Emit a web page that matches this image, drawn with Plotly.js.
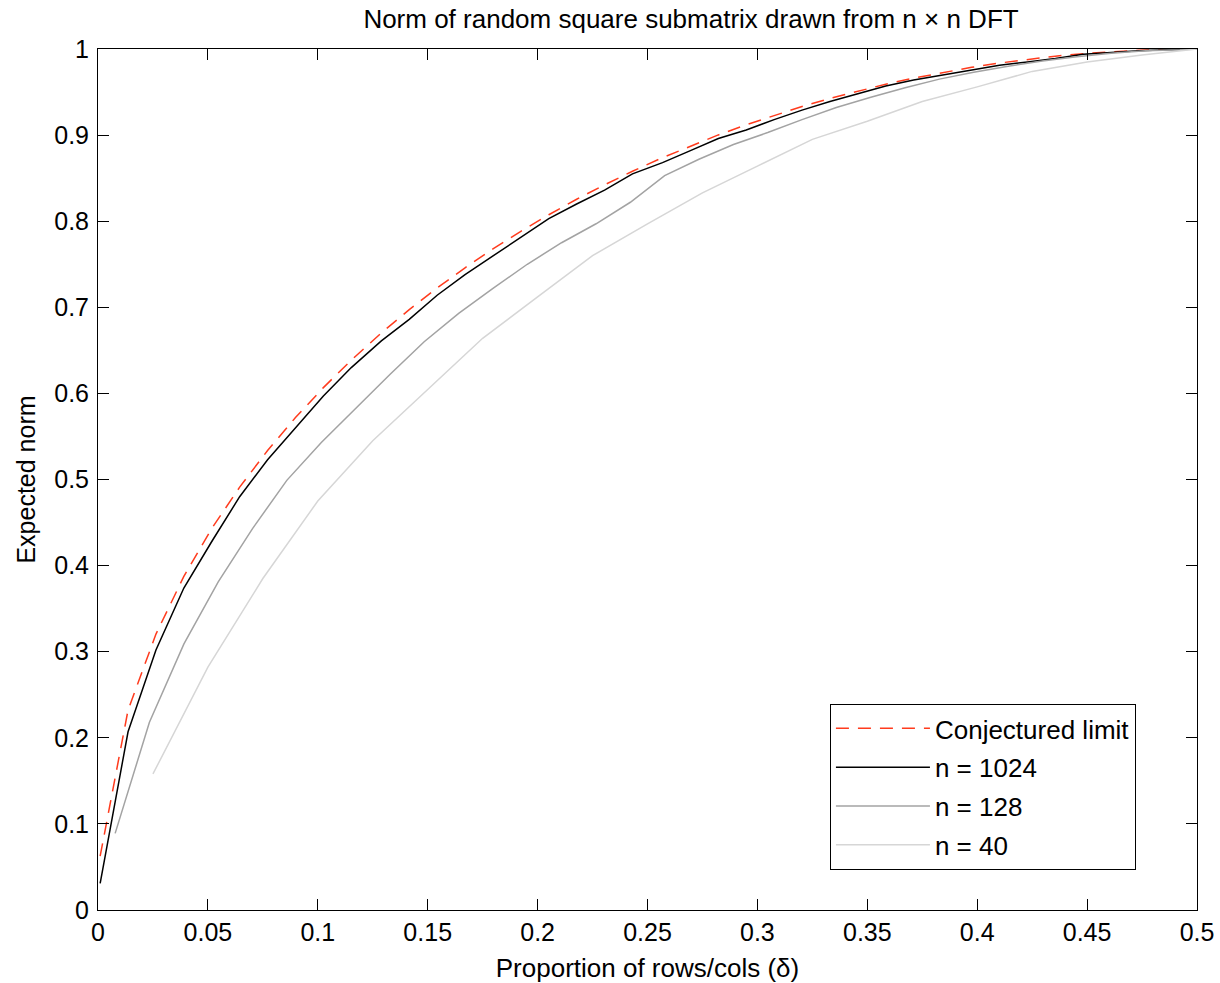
<!DOCTYPE html>
<html>
<head>
<meta charset="utf-8">
<script src="https://cdn.plot.ly/plotly-3.0.1.min.js"></script>
<style>html,body{margin:0;padding:0;background:#fff;}#chart{width:1220px;height:983px;}</style>
</head>
<body>
<div id="chart"></div>
<script>
// proportion of rows/cols (delta) sampled for n = 1024 and the conjectured limit
var delta1024 = [0.00098, 0.01367, 0.02637, 0.03906, 0.05176, 0.06445, 0.07715, 0.08984, 0.10254, 0.11523,
  0.12891, 0.14160, 0.15430, 0.16699, 0.17969, 0.19238, 0.20508, 0.21777, 0.23047, 0.24316,
  0.25684, 0.26953, 0.28223, 0.29492, 0.30762, 0.32031, 0.33301, 0.34570, 0.35840, 0.37109,
  0.38477, 0.39746, 0.41016, 0.42285, 0.43555, 0.44824, 0.46094, 0.47363, 0.48633, 0.50000];
var limitNorm = [0.0625, 0.2322, 0.3205, 0.3875, 0.4431, 0.4911, 0.5337, 0.5719, 0.6067, 0.6386,
  0.6702, 0.6973, 0.7225, 0.7459, 0.7679, 0.7883, 0.8075, 0.8255, 0.8423, 0.8580,
  0.8738, 0.8874, 0.9002, 0.9120, 0.9230, 0.9332, 0.9426, 0.9512, 0.9591, 0.9662,
  0.9731, 0.9787, 0.9837, 0.9880, 0.9917, 0.9946, 0.9969, 0.9986, 0.9996, 1.0000];
var norm1024 = [0.031, 0.207, 0.302, 0.374, 0.428, 0.480, 0.523, 0.560, 0.597, 0.630,
  0.661, 0.686, 0.714, 0.738, 0.760, 0.782, 0.803, 0.820, 0.836, 0.855,
  0.868, 0.882, 0.896, 0.906, 0.918, 0.929, 0.939, 0.948, 0.957, 0.964,
  0.970, 0.976, 0.981, 0.985, 0.989, 0.994, 0.996, 0.998, 0.999, 1.000];
var delta128 = [0.0078, 0.0234, 0.0391, 0.0547, 0.0703, 0.0859, 0.1016, 0.1172, 0.1328, 0.1484,
  0.1641, 0.1797, 0.1953, 0.2109, 0.2266, 0.2422, 0.2578, 0.2734, 0.2891, 0.3047,
  0.3203, 0.3359, 0.3516, 0.3672, 0.3828, 0.3984, 0.4141, 0.4297, 0.4453, 0.4609,
  0.4766, 0.4922, 0.5000];
var norm128 = [0.089, 0.218, 0.309, 0.381, 0.443, 0.499, 0.543, 0.583, 0.622, 0.660,
  0.693, 0.722, 0.750, 0.775, 0.797, 0.822, 0.853, 0.872, 0.889, 0.903,
  0.918, 0.932, 0.944, 0.955, 0.965, 0.973, 0.980, 0.986, 0.991, 0.995,
  0.998, 0.999, 1.000];
var delta40 = [0.025, 0.050, 0.075, 0.100, 0.125, 0.150, 0.175, 0.200, 0.225, 0.250,
  0.275, 0.300, 0.325, 0.350, 0.375, 0.400, 0.425, 0.450, 0.475, 0.500];
var norm40 = [0.158, 0.282, 0.385, 0.475, 0.545, 0.604, 0.664, 0.712, 0.760, 0.797,
  0.833, 0.864, 0.895, 0.916, 0.939, 0.956, 0.974, 0.985, 0.993, 1.000];

var seriesNames = ["Conjectured limit", "n = 1024", "n = 128", "n = 40"];
var xTickVals = [0, 0.05, 0.1, 0.15, 0.2, 0.25, 0.3, 0.35, 0.4, 0.45, 0.5];
var xTickText = ["0", "0.05", "0.1", "0.15", "0.2", "0.25", "0.3", "0.35", "0.4", "0.45", "0.5"];
var yTickVals = [0, 0.1, 0.2, 0.3, 0.4, 0.5, 0.6, 0.7, 0.8, 0.9, 1];
var yTickText = ["0", "0.1", "0.2", "0.3", "0.4", "0.5", "0.6", "0.7", "0.8", "0.9", "1"];

var FONT = "Liberation Sans, Arial, Helvetica, sans-serif";

var traces = [
  {x: delta1024, y: limitNorm, name: seriesNames[0], legendgroup: "g0", mode: "lines",
   line: {color: "#ff3b1d", width: 1.5, dash: "13px,9px"}},
  {x: delta1024, y: norm1024, name: seriesNames[1], legendgroup: "g1", mode: "lines",
   line: {color: "#000000", width: 1.5}},
  {x: delta128, y: norm128, name: seriesNames[2], legendgroup: "g2", mode: "lines",
   line: {color: "#a3a3a3", width: 1.5}},
  {x: delta40, y: norm40, name: seriesNames[3], legendgroup: "g3", mode: "lines",
   line: {color: "#d6d6d6", width: 1.5}}
];

var axisCommon = {
  showgrid: false, zeroline: false, showline: true, linecolor: "#000", linewidth: 1,
  mirror: "ticks", ticks: "inside", ticklen: 11, tickwidth: 1, tickcolor: "#000",
  tickfont: {family: FONT, size: 25, color: "#000"}
};

var layout = {
  width: 1220, height: 983,
  paper_bgcolor: "#fff", plot_bgcolor: "#fff",
  margin: {l: 98, r: 23, t: 49, b: 73},
  font: {family: FONT, color: "#000"},
  title: {text: "Norm of random square submatrix drawn from n × n DFT",
    font: {family: FONT, size: 26, color: "#000"},
    x: 0.5396, xref: "paper", xanchor: "center", y: 0.981, yref: "container", yanchor: "middle"},
  xaxis: Object.assign({}, axisCommon, {
    range: [0, 0.5], tickmode: "array", tickvals: xTickVals, ticktext: xTickText,
    title: {text: "Proportion of rows/cols (δ)", font: {family: FONT, size: 26, color: "#000"}, standoff: 13}
  }),
  yaxis: Object.assign({}, axisCommon, {
    range: [0, 1], tickmode: "array", tickvals: yTickVals, ticktext: yTickText,
    ticklabelstandoff: 3,
    title: {text: "Expected norm", font: {family: FONT, size: 25, color: "#000"}, standoff: 11}
  }),
  showlegend: true,
  legend: {x: 0.666, xanchor: "left", y: 0.2393, yanchor: "top",
    bgcolor: "#fff", bordercolor: "#000", borderwidth: 1,
    font: {family: FONT, size: 26, color: "#000"}, itemwidth: 94,
    tracegroupgap: 2}
};

Plotly.newPlot("chart", traces, layout, {displayModeBar: false, staticPlot: true});
</script>
</body>
</html>
